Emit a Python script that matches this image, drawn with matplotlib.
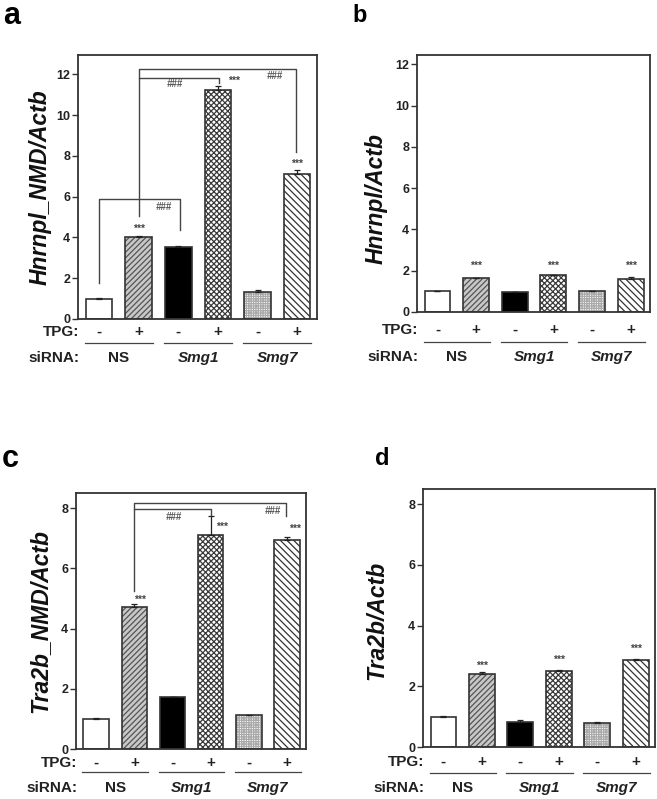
import matplotlib
matplotlib.use("Agg")
import matplotlib.pyplot as plt
from matplotlib.transforms import blended_transform_factory

plt.rcParams['font.family'] = ['Liberation Sans', 'DejaVu Sans']
plt.rcParams['hatch.linewidth'] = 0.9

# ---------------- data ----------------
tpg_signs = ['-', '+', '-', '+', '-', '+']
sirna_groups = ['NS', 'Smg1', 'Smg7']

a_vals = [0.99, 4.04, 3.55, 11.25, 1.32, 7.09]
a_errs = [0.05, 0.03, 0.05, 0.16, 0.12, 0.21]
b_vals = [1.01, 1.64, 0.95, 1.78, 1.00, 1.59]
b_errs = [0.02, 0.03, 0.02, 0.02, 0.02, 0.10]
c_vals = [1.00, 4.70, 1.72, 7.12, 1.12, 6.95]
c_errs = [0.02, 0.10, 0.02, 0.60, 0.02, 0.08]
d_vals = [0.99, 2.42, 0.84, 2.51, 0.80, 2.86]
d_errs = [0.04, 0.04, 0.04, 0.02, 0.04, 0.03]

ylabels = ['Hnrnpl_NMD/Actb', 'Hnrnpl/Actb', 'Tra2b_NMD/Actb', 'Tra2b/Actb']
panel_letters = ['a', 'b', 'c', 'd']

# ---------------- styles ----------------
fills = ['white', '#c8c8c8', 'black', 'white', 'white', 'white']
hatches = [None, '//////', None, 'xxxxxx', '+++++++', '\\\\\\\\\\']
hatch_cols = ['#333333', '#555555', 'black', '#3a3a3a', '#aaaaaa', '#333333']
edge_col = '#333333'

W, H = 657, 799
fig = plt.figure(figsize=(W / 100, H / 100), dpi=100)


def px_axes(l, r, t, b):
    return fig.add_axes([l / W, (H - b) / H, (r - l) / W, (b - t) / H])


axa = px_axes(78, 317, 55, 319)
axb = px_axes(417, 650, 55, 312)
axc = px_axes(76, 306, 493, 749)
axd = px_axes(423, 655, 489, 747)

x = list(range(6))
bw = 0.67


def draw(ax, vals, errs, ylim, yticks, ylabel, ylab_x, ylab_y, rows_px):
    for i in x:
        ax.bar(i, vals[i], width=bw, color=fills[i], hatch=hatches[i],
               edgecolor=hatch_cols[i], linewidth=0, zorder=2)
        ax.bar(i, vals[i], width=bw, color='none', edgecolor=edge_col,
               linewidth=1.2, zorder=3)
    ax.errorbar(x, vals, yerr=[[0] * 6, errs], fmt='none', ecolor='#222222',
                elinewidth=0.9, capsize=2.2, capthick=0.9, zorder=4)
    ax.set_xlim(-0.53, 5.5)
    ax.set_ylim(*ylim)
    ax.set_yticks(yticks)
    ax.set_yticklabels([str(t) for t in yticks], fontsize=9, fontweight='bold',
                       color='#222222')
    ax.set_xticks([])
    ax.tick_params(axis='y', direction='out', length=4, width=1, pad=1.5,
                   color='#333333')
    for s in ax.spines.values():
        s.set_linewidth(1.3)
        s.set_color('#333333')
    ax.set_ylabel(ylabel, fontsize=16.5, fontweight='bold', style='italic',
                  color='#111111')
    ax.yaxis.set_label_coords(ylab_x, ylab_y)
    # rows below
    hpx = ax.get_position().height * H
    tr = blended_transform_factory(ax.transData, ax.transAxes)
    tpg_y, line_y, sirna_y = [-p / hpx for p in rows_px]
    ax.text(-0.5, tpg_y, 'TPG:', transform=tr, ha='right', va='center',
            fontsize=11, fontweight='bold', color='#222222')
    ax.text(-0.5, sirna_y, 'siRNA:', transform=tr, ha='right', va='center',
            fontsize=11, fontweight='bold', color='#222222')
    for i in x:
        ax.text(i, tpg_y, tpg_signs[i], transform=tr, ha='center', va='center',
                fontsize=11, fontweight='bold', color='#222222')
    for g, name in enumerate(sirna_groups):
        x0, x1 = 2 * g - 0.36, 2 * g + 1 + 0.36
        ax.plot([x0, x1], [line_y, line_y], transform=tr, color='#444444',
                lw=0.9, clip_on=False)
        ax.text(2 * g + 0.5, sirna_y, name, transform=tr, ha='center',
                va='center', fontsize=11, fontweight='bold',
                style='normal' if name == 'NS' else 'italic', color='#222222')


def stars(ax, xs, ys):
    for xi, yi in zip(xs, ys):
        ax.text(xi, yi, '***', ha='center', va='center', fontsize=7.5,
                color='#444444', fontweight='bold')


def hashes(ax, xs, ys):
    for xi, yi in zip(xs, ys):
        ax.text(xi, yi, '###', ha='center', va='center', fontsize=7,
                color='#555555', style='italic', fontweight='bold')


def bracket(ax, xl, xr, ytop, yl, yr):
    ax.plot([xl, xl, xr, xr], [yl, ytop, ytop, yr], color='#444444', lw=1.0,
            zorder=5)


draw(axa, a_vals, a_errs, (0, 12.95), [0, 2, 4, 6, 8, 10, 12], ylabels[0],
     -0.11, 0.5, (13, 24, 39))
draw(axb, b_vals, b_errs, (0, 12.45), [0, 2, 4, 6, 8, 10, 12], ylabels[1],
     -0.125, 0.44, (18, 30, 45))
draw(axc, c_vals, c_errs, (0, 8.5), [0, 2, 4, 6, 8], ylabels[2],
     -0.105, 0.5, (14, 23, 39))
draw(axd, d_vals, d_errs, (0, 8.5), [0, 2, 4, 6, 8], ylabels[3],
     -0.15, 0.49, (15, 26, 41))

# panel a annotations
bracket(axa, 0, 2.05, 5.89, 1.76, 4.37)
bracket(axa, 1, 3.02, 11.82, 5.05, 11.58)
bracket(axa, 1, 4.96, 12.28, 11.82, 8.2)
hashes(axa, [1.63, 1.92, 4.43], [5.51, 11.55, 11.9])
stars(axa, [1.0, 3.4, 5.0], [4.4, 11.66, 7.63])

# panel b annotations
stars(axb, [1, 3, 5], [2.24, 2.24, 2.24])

# panel c annotations
bracket(axc, 1, 3.0, 7.98, 5.23, 7.78)
bracket(axc, 1, 4.97, 8.16, 7.98, 7.72)
hashes(axc, [2.04, 4.62], [7.7, 7.89])
stars(axc, [1.15, 3.3, 5.22], [4.96, 7.39, 7.3])

# panel d annotations
stars(axd, [1, 3, 5], [2.67, 2.86, 3.25])

# panel letters
fig.text(3 / W, 1 - 24 / H, 'a', fontsize=22, fontweight='bold')
fig.text(352 / W, 1 - 22 / H, 'b', fontsize=17, fontweight='bold')
fig.text(2 / W, 1 - 467 / H, 'c', fontsize=22, fontweight='bold')
fig.text(375 / W, 1 - 465 / H, 'd', fontsize=17, fontweight='bold')

fig.savefig('out.png', dpi=100, facecolor='white')
